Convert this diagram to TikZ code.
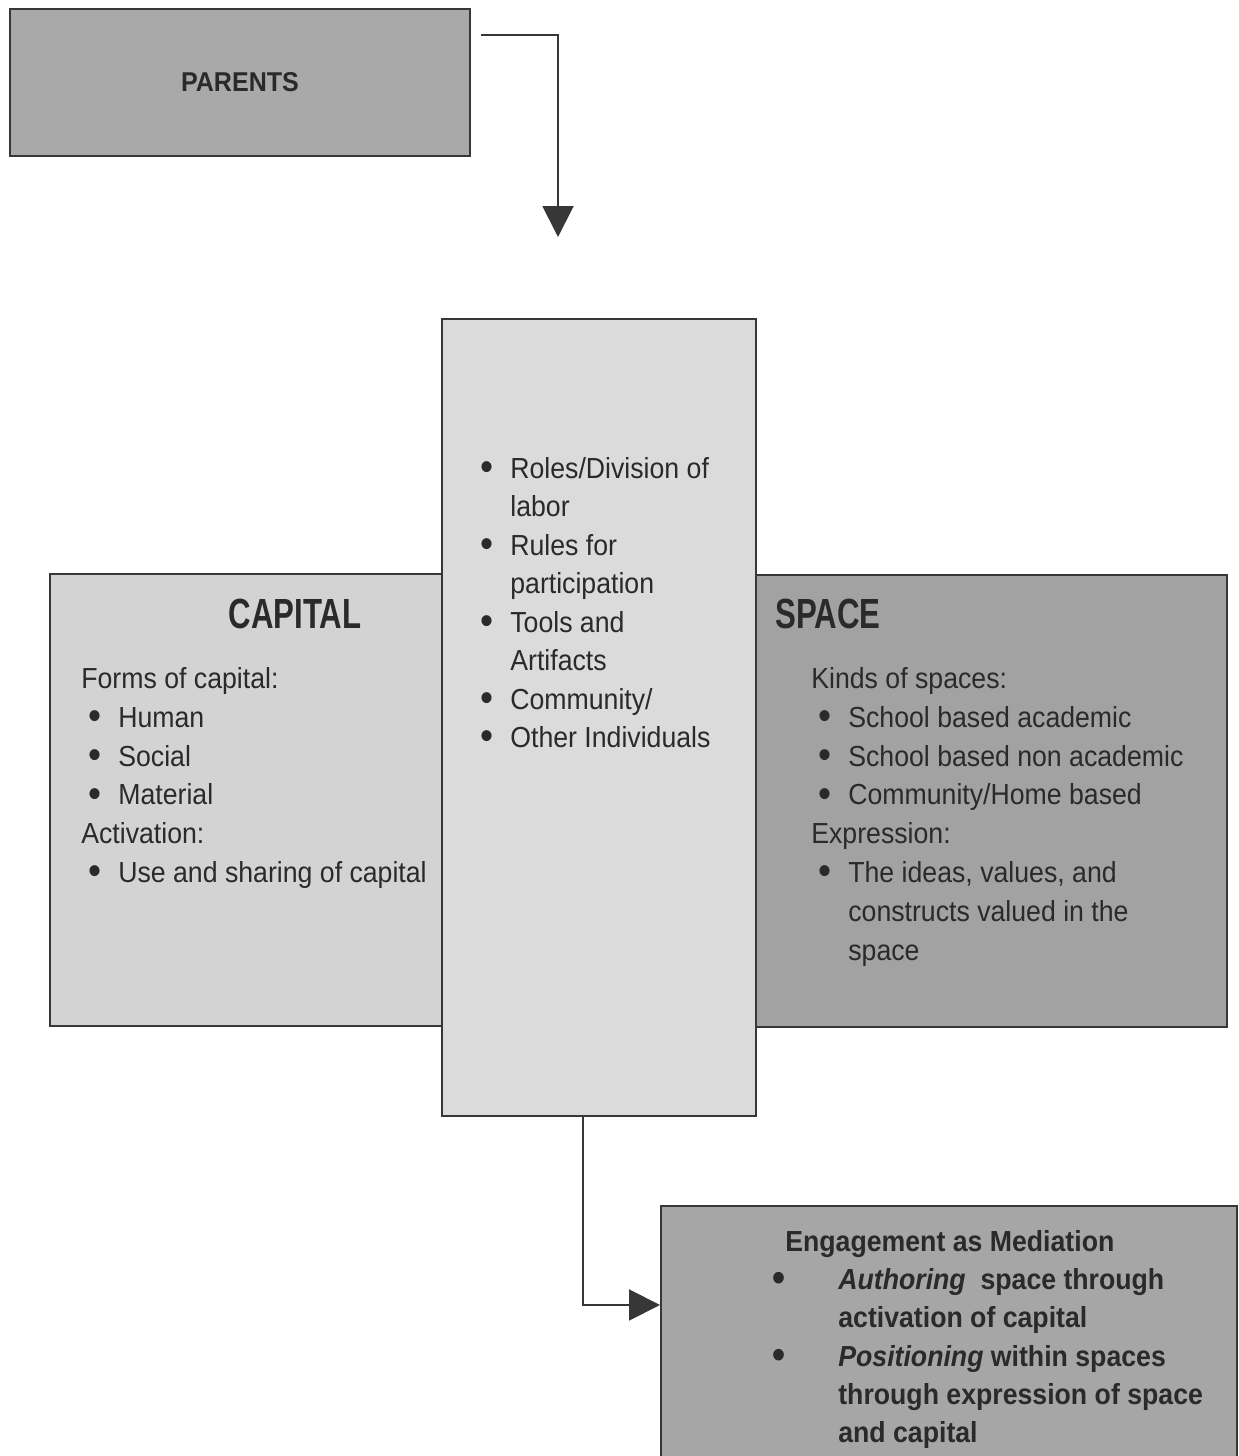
\documentclass[tikz,border=0pt]{standalone}
\usepackage{fontspec}
\setmainfont{Liberation Sans}[FakeStretch=0.92]
\newfontfamily\condensedfont{Liberation Sans}[FakeStretch=0.74]
\usetikzlibrary{arrows.meta, positioning}
\definecolor{ParentGray}{RGB}{169,169,169}
\definecolor{CapitalGray}{RGB}{211,211,211}
\definecolor{ActivityGray}{RGB}{219,219,219}
\definecolor{SpaceGray}{RGB}{162,162,162}
\definecolor{EngageGray}{RGB}{166,166,166}
\definecolor{BorderGray}{RGB}{55,55,55}
\definecolor{InkGray}{RGB}{42,42,42}
\newcommand{\bigdot}{\raisebox{-1.3pt}{\fontsize{23}{23}\selectfont\textbullet}}
\newcommand{\bitem}{\makebox[0.54cm][l]{\hspace*{-0.05cm}\bigdot}}
\newcommand{\eitem}{\makebox[1.26cm][l]{\hspace*{-0.05cm}\bigdot}}

\begin{document}
\begin{tikzpicture}[x=0.02cm, y=-0.02cm,
    box/.style={draw=BorderGray, line width=0.04cm, inner sep=0pt, anchor=north west},
    conn/.style={BorderGray, line width=0.04cm, -{Triangle[length=0.62cm,width=0.62cm]}},
    body/.style={text=InkGray, align=left, inner sep=0pt, anchor=north west,
                 font=\fontsize{16.5}{22.1}\selectfont},
    title/.style={text=InkGray, inner sep=0pt,
                  font=\condensedfont\bfseries\fontsize{24}{28}\selectfont}]
  \useasboundingbox (0,0) rectangle (1238,1456);
  \clip (0,0) rectangle (1238,1456);

  % boxes
  \node[box, fill=ParentGray, minimum width=9.2cm, minimum height=2.94cm, text=InkGray,
        font=\bfseries\fontsize{15.5}{18}\selectfont] (parents) at (9,8) {PARENTS};
  \node[box, fill=CapitalGray, minimum width=8cm, minimum height=9.04cm] (capital) at (49,573) {};
  \node[box, fill=SpaceGray, minimum width=9.62cm, minimum height=9.04cm] (space) at (745,574) {};
  \node[box, fill=ActivityGray, minimum width=6.28cm, minimum height=15.94cm] (activity) at (441,318) {};
  \node[box, fill=EngageGray, minimum width=11.52cm, minimum height=6.2cm] (engage) at (660,1205) {};

  % texts
  \node[title, anchor=base] (capitaltitle) at (295,628) {CAPITAL};
  \node[title, anchor=base west] (spacetitle) at (775,628) {SPACE};
  \node[body] (capitaltext) at (81,667) {Forms of capital:\\
    \hspace*{0.2cm}\bitem Human\\
    \hspace*{0.2cm}\bitem Social\\
    \hspace*{0.2cm}\bitem Material\\
    Activation:\\
    \hspace*{0.2cm}\bitem Use and sharing of capital};
  \node[body] (spacetext) at (811,667) {Kinds of spaces:\\
    \hspace*{0.2cm}\bitem School based academic\\
    \hspace*{0.2cm}\bitem School based non academic\\
    \hspace*{0.2cm}\bitem Community/Home based\\
    Expression:\\
    \hspace*{0.2cm}\bitem The ideas, values, and\\
    \hspace*{0.74cm}constructs valued in the\\
    \hspace*{0.74cm}space};
  \node[body, font=\fontsize{16.5}{21.9}\selectfont] (activitytext) at (483,457) {\bitem Roles/Division of\\
    \hspace*{0.54cm}labor\\
    \bitem Rules for\\
    \hspace*{0.54cm}participation\\
    \bitem Tools and\\
    \hspace*{0.54cm}Artifacts\\
    \bitem Community/\\
    \bitem Other Individuals};
  \node[body, font=\bfseries\fontsize{16.5}{21.8}\selectfont] (engagetext) at (775,1230)
    {\hspace*{0.2cm}Engagement as Mediation\\
    \eitem\textit{Authoring}\ \ space through\\
    \hspace*{1.26cm}activation of capital\\
    \eitem\textit{Positioning} within spaces\\
    \hspace*{1.26cm}through expression of space\\
    \hspace*{1.26cm}and capital};

  % connectors
  \coordinate (drop) at (558,237);
  \draw[conn] ([xshift=0.2cm,yshift=-0.54cm]parents.north east) -| (drop);
  \draw[conn] ([xshift=-0.32cm]activity.south) |- ([yshift=-2cm]engage.north west);
\end{tikzpicture}
\end{document}
